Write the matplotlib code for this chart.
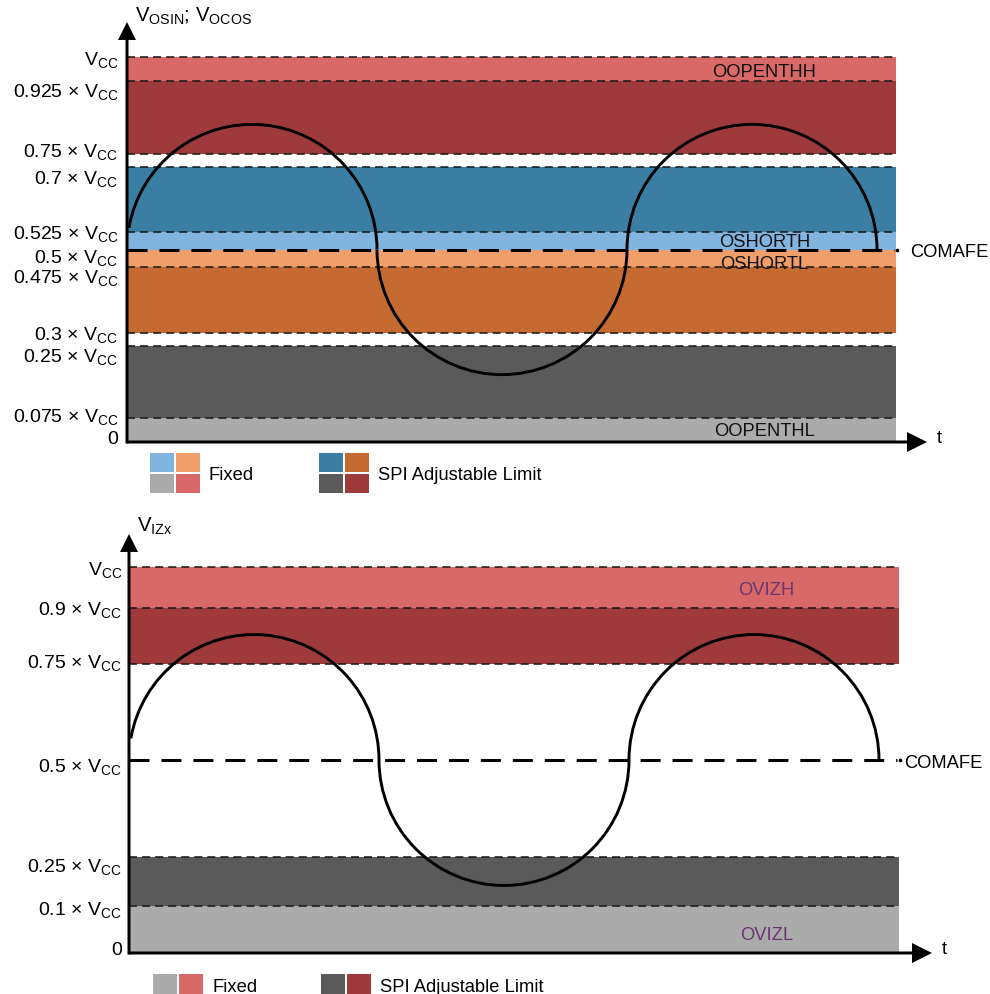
import numpy as np
import matplotlib
matplotlib.use("Agg")
import matplotlib.pyplot as plt
from matplotlib.patches import Arc, FancyArrow, Rectangle

plt.rcParams['font.family'] = ['Liberation Sans', 'DejaVu Sans']
plt.rcParams['mathtext.fontset'] = 'custom'
plt.rcParams['mathtext.rm'] = 'Liberation Sans'
plt.rcParams['mathtext.it'] = 'Liberation Sans:italic'
plt.rcParams['mathtext.bf'] = 'Liberation Sans:bold'
plt.rcParams['lines.scale_dashes'] = False

# ---------------- data ----------------
# Upper chart: V_OSIN ; V_OCOS thresholds (fraction of VCC)
top_levels = [0.0, 0.075, 0.25, 0.3, 0.475, 0.5, 0.525, 0.7, 0.75, 0.925, 1.0]
top_tick_labels = ['0', r'0.075 × V$_{\mathrm{CC}}$', r'0.25 × V$_{\mathrm{CC}}$',
                   r'0.3 × V$_{\mathrm{CC}}$', r'0.475 × V$_{\mathrm{CC}}$',
                   r'0.5 × V$_{\mathrm{CC}}$', r'0.525 × V$_{\mathrm{CC}}$',
                   r'0.7 × V$_{\mathrm{CC}}$', r'0.75 × V$_{\mathrm{CC}}$',
                   r'0.925 × V$_{\mathrm{CC}}$', r'V$_{\mathrm{CC}}$']
top_band_lo = [0.0, 0.075, 0.3, 0.475, 0.5, 0.525, 0.75, 0.925]
top_band_hi = [0.075, 0.25, 0.475, 0.5, 0.525, 0.7, 0.925, 1.0]
top_band_kind = ['fixed', 'spi', 'spi', 'fixed', 'fixed', 'spi', 'spi', 'fixed']
top_band_hue = ['gray', 'gray', 'orange', 'orange', 'blue', 'blue', 'red', 'red']
top_band_names = ['OOPENTHL', '', '', 'OSHORTL', 'OSHORTH', '', '', 'OOPENTHH']
top_dashed = [0.075, 0.25, 0.3, 0.475, 0.525, 0.7, 0.75, 0.925, 1.0]
top_ylabel = r'V$_{\mathrm{OSIN}}$; V$_{\mathrm{OCOS}}$'

# Lower chart: V_IZx thresholds
bot_levels = [0.0, 0.1, 0.25, 0.5, 0.75, 0.9, 1.0]
bot_tick_labels = ['0', r'0.1 × V$_{\mathrm{CC}}$', r'0.25 × V$_{\mathrm{CC}}$',
                   r'0.5 × V$_{\mathrm{CC}}$', r'0.75 × V$_{\mathrm{CC}}$',
                   r'0.9 × V$_{\mathrm{CC}}$', r'V$_{\mathrm{CC}}$']
bot_band_lo = [0.0, 0.1, 0.75, 0.9]
bot_band_hi = [0.1, 0.25, 0.9, 1.0]
bot_band_kind = ['fixed', 'spi', 'spi', 'fixed']
bot_band_hue = ['gray', 'gray', 'red', 'red']
bot_band_names = ['OVIZL', '', '', 'OVIZH']
bot_dashed = [0.1, 0.25, 0.75, 0.9, 1.0]
bot_ylabel = r'V$_{\mathrm{IZx}}$'

common_mode = 0.5                 # COMAFE level
common_mode_label = 'COMAFE'
wave_crossings = [0, 1, 2, 3]     # zero crossings (half periods)
wave_amp = 0.325                  # drawn amplitude (schematic units)
legend_fixed = 'Fixed'
legend_spi = 'SPI Adjustable Limit'

# ---------------- styles / layout ----------------
colors = {('fixed', 'gray'): '#ababab', ('spi', 'gray'): '#5a5a5a',
          ('fixed', 'orange'): '#f09e6a', ('spi', 'orange'): '#c56b32',
          ('fixed', 'blue'): '#82b4e0', ('spi', 'blue'): '#3a7fa3',
          ('fixed', 'red'): '#d96868', ('spi', 'red'): '#9e3a3c'}
W, H = 990, 995
FS = 13.2       # band names, legend, COMAFE, t
FS_TICK = 14.0  # level labels
FS_YL = 14.6    # axis titles
XSC = 250.0     # px per half period

# schematic (drawn) position of each level, 0..1
top_pos = [0.0, 0.062, 0.249, 0.283, 0.455, 0.5, 0.545, 0.714, 0.748, 0.938, 1.0]
bot_pos = [0.0, 0.122, 0.249, 0.5, 0.749, 0.894, 1.0]
# label vertical offsets (px, + = downward) relative to their line
top_lab_off = [-6, -4, 8, -1, 8, 5, -1, 9, -5, 8, 0]
bot_lab_off = [-6, 1, 7, 4, -4, -1, 0]

fig = plt.figure(figsize=(W / 100, H / 100), dpi=100)


def panel(levels, pos, labels, lab_off, lo, hi, kind, hue, names, dashed,
          ylabel, y0, ysc, x0, band_end_px, lab_dx, t_tip_px, y_tip_px,
          cm_txt_px, name_color, name_dy, ylabel_px):
    lv = np.array([-20.0] + list(levels) + [20.0])
    ps = np.array([-20.0] + list(pos) + [20.0])
    fwd = lambda v: np.interp(v, lv, ps)
    inv = lambda p: np.interp(p, ps, lv)
    ax = fig.add_axes([0, 0, 1, 1])
    ax.set_facecolor('none')
    ax.set_xlim(-x0 / XSC, (W - x0) / XSC)
    ylo, yhi = (y0 - H) / ysc, y0 / ysc
    ax.set_yscale('function', functions=(fwd, inv))
    ax.set_ylim(ylo, yhi)
    ax.axis('off')
    tend = (band_end_px - x0) / XSC

    # bands
    for a, b, k, h in zip(lo, hi, kind, hue):
        ax.barh(a, tend, height=b - a, left=0, align='edge',
                color=colors[(k, h)], linewidth=0, zorder=1)
    # dashed threshold lines
    ax.hlines(dashed, 0, tend, colors='#1a1a1a', linewidth=1.15,
              linestyles=[(0, (5.8, 3.6))], zorder=2)
    # COMAFE
    ax.hlines(common_mode, 0, tend - 0.01, colors='black', linewidth=2.2,
              linestyles=[(0, (14.4, 8.6))], zorder=2)
    ax.plot([tend + 0.004], [common_mode], marker='o', ms=1.6, color='black',
            zorder=3)
    ax.annotate(common_mode_label, xy=((cm_txt_px - x0) / XSC, common_mode),
                xytext=(0, -6.6), textcoords='offset pixels', ha='left',
                va='baseline', fontsize=FS, color='black')
    # band names
    for a, b, n, d in zip(lo, hi, names, name_dy):
        if n:
            ax.annotate(n, xy=(2.55, (a + b) / 2), xytext=(0, -6.6 - d),
                        textcoords='offset pixels', ha='center',
                        va='baseline', fontsize=FS, color=name_color,
                        zorder=4)
    # level labels
    for v, s, o in zip(levels, labels, lab_off):
        ax.annotate(s, xy=(0, v), xytext=(lab_dx, -o - 7.0),
                    textcoords='offset pixels', ha='right', va='baseline',
                    fontsize=FS_TICK, color='black')

    # linear twin for the waveform and the axis arrows
    axc = ax.twinx()
    axc.set_facecolor('none')
    axc.set_ylim(ylo, yhi)
    axc.axis('off')
    mid = fwd(common_mode)
    for i, c in enumerate(wave_crossings[:-1]):
        w = wave_crossings[i + 1] - c
        if i % 2 == 0:
            t1, t2 = 0, 180
        else:
            t1, t2 = 180, 360
        if i == 0:
            t2 = 173.5
        axc.add_patch(Arc((c + w / 2, mid), w, 2 * wave_amp, theta1=t1,
                          theta2=t2, lw=2.1, color='black', zorder=5))
    ttip = (t_tip_px - x0) / XSC
    axc.add_patch(FancyArrow(0, 0, ttip, 0, width=3 / ysc, head_width=20 / ysc,
                             head_length=20 / XSC, length_includes_head=True,
                             color='black', lw=0, zorder=6))
    ytip = (y0 - y_tip_px) / ysc
    axc.add_patch(FancyArrow(0, -1.5 / ysc, 0, ytip + 1.5 / ysc, width=3 / XSC,
                             head_width=18 / XSC, head_length=18 / ysc,
                             length_includes_head=True, color='black', lw=0,
                             zorder=6))
    axc.text(ttip + 10 / XSC, 0, 't', ha='left', va='baseline', fontsize=FS)
    axc.annotate(ylabel, xy=(0, (y0 - ylabel_px[1]) / ysc),
                 xytext=(ylabel_px[0] - x0, 0), textcoords='offset pixels',
                 ha='left', va='baseline', fontsize=FS_YL)
    return ax


panel(top_levels, top_pos, top_tick_labels, top_lab_off, top_band_lo,
      top_band_hi, top_band_kind, top_band_hue, top_band_names, top_dashed,
      top_ylabel, y0=443, ysc=385.0, x0=127, band_end_px=896, lab_dx=-9,
      t_tip_px=927, y_tip_px=23, cm_txt_px=910, name_color='#111111',
      name_dy=[-2, 0, 0, 3, -1, 0, 0, 0], ylabel_px=(135, 22))
panel(bot_levels, bot_pos, bot_tick_labels, bot_lab_off, bot_band_lo,
      bot_band_hi, bot_band_kind, bot_band_hue, bot_band_names, bot_dashed,
      bot_ylabel, y0=954, ysc=386.0, x0=129, band_end_px=899, lab_dx=-7,
      t_tip_px=932, y_tip_px=535, cm_txt_px=904, name_color='#6b3570',
      name_dy=[3, 0, 0, 0], ylabel_px=(137, 532))

# legends in pixel coordinates
axl = fig.add_axes([0, 0, 1, 1])
axl.set_xlim(0, W)
axl.set_ylim(H, 0)
axl.axis('off')
axl.set_facecolor('none')


def swatch_grid(x, y, keys, ncols, sw=24, sh=19, gap=1.5):
    for j, k in enumerate(keys):
        r, c = divmod(j, ncols)
        axl.add_patch(Rectangle((x + c * (sw + gap), y + r * (sh + gap)), sw,
                                sh, color=colors[k], lw=0))


swatch_grid(150, 454, [('fixed', 'blue'), ('fixed', 'orange'),
                       ('fixed', 'gray'), ('fixed', 'red')], 2)
axl.text(209, 473, legend_fixed, ha='left', va='center_baseline', fontsize=FS)
swatch_grid(319, 454, [('spi', 'blue'), ('spi', 'orange'),
                       ('spi', 'gray'), ('spi', 'red')], 2)
axl.text(378, 473, legend_spi, ha='left', va='center_baseline', fontsize=FS)

swatch_grid(153, 975, [('fixed', 'gray'), ('fixed', 'red')], 2, sh=20)
axl.text(213, 985, legend_fixed, ha='left', va='center_baseline', fontsize=FS)
swatch_grid(321, 975, [('spi', 'gray'), ('spi', 'red')], 2, sh=20)
axl.text(380, 985, legend_spi, ha='left', va='center_baseline', fontsize=FS)

fig.savefig('out.png', dpi=100)
